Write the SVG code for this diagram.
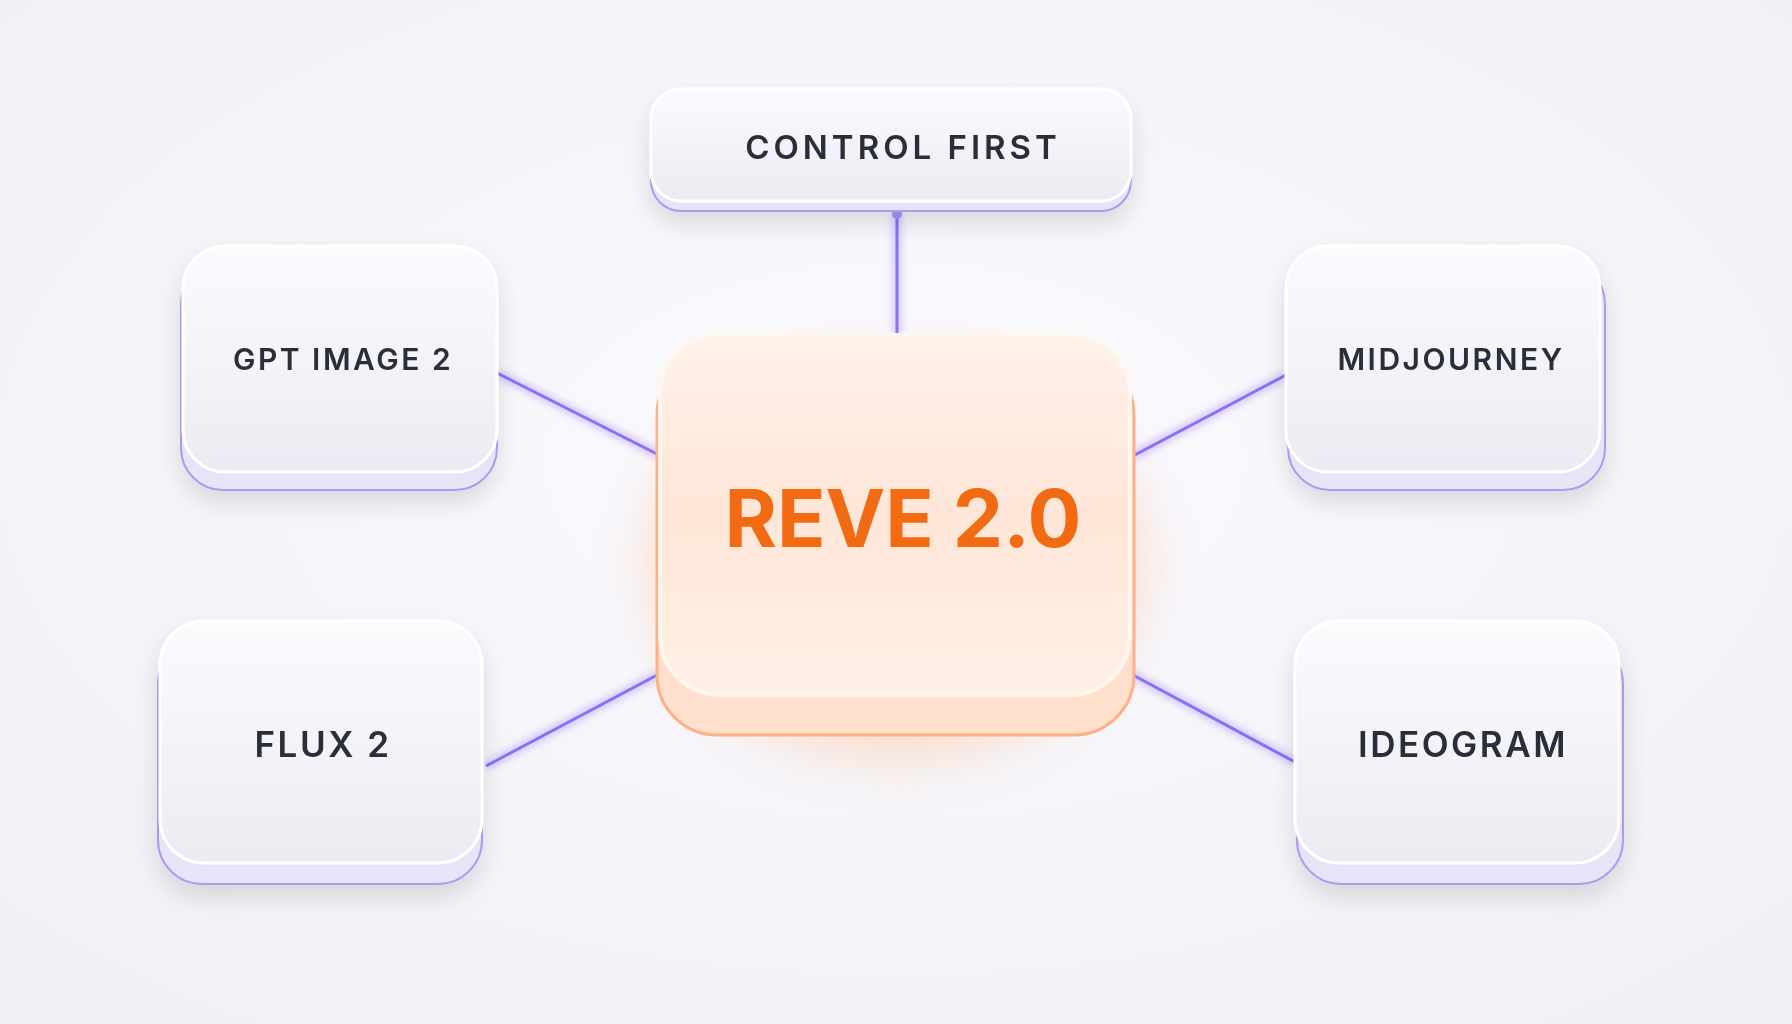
<svg xmlns="http://www.w3.org/2000/svg" width="1792" height="1024" viewBox="0 0 1792 1024">
<defs>
<radialGradient id="bg" cx="50%" cy="45%" r="75%"><stop offset="0" stop-color="#fbfaff"/><stop offset="1" stop-color="#efeff4"/></radialGradient>
<linearGradient id="card" x1="0" y1="0" x2="0" y2="1"><stop offset="0" stop-color="#fbfbfe"/><stop offset="1" stop-color="#ebebf3"/></linearGradient>
<linearGradient id="core" x1="0" y1="0" x2="0" y2="1"><stop offset="0" stop-color="#fff1ea"/><stop offset="0.5" stop-color="#ffe6d8"/><stop offset="1" stop-color="#fff0e6"/></linearGradient>
<filter id="sh" x="-30%" y="-30%" width="160%" height="170%"><feGaussianBlur in="SourceAlpha" stdDeviation="12"/><feOffset dy="12"/><feComponentTransfer><feFuncA type="linear" slope="0.12"/></feComponentTransfer><feMerge><feMergeNode/><feMergeNode in="SourceGraphic"/></feMerge></filter>
<filter id="glow" x="-50%" y="-50%" width="200%" height="200%"><feGaussianBlur stdDeviation="25"/></filter>
<filter id="lg" x="-20%" y="-20%" width="140%" height="140%"><feGaussianBlur stdDeviation="3"/></filter>
</defs>
<style>
.base{fill:#e6e4f7;stroke:#a99cf0;stroke-width:2}
.top{fill:url(#card);stroke:#ffffff;stroke-width:3}
.lbl{font-family:"Inter","Liberation Sans",sans-serif;font-weight:600;font-size:30px;fill:#2b2f38;letter-spacing:2.5px;text-anchor:middle;dominant-baseline:central}
.ln{stroke:#8b6ff5;stroke-width:3;fill:none}
.lnglow{stroke:#b9a6ff;stroke-width:10;fill:none;opacity:0.5}
</style>
<rect width="1792" height="1024" fill="url(#bg)"/>
<g id="connectors">
<g filter="url(#lg)">
<line class="lnglow" x1="897" y1="211" x2="897" y2="334"/>
<line class="lnglow" x1="497" y1="373" x2="659" y2="455"/>
<line class="lnglow" x1="1286" y1="375" x2="1131" y2="457"/>
<line class="lnglow" x1="486" y1="766" x2="659" y2="674"/>
<line class="lnglow" x1="1295" y1="762" x2="1131" y2="674"/>
</g>
<line class="ln" x1="897" y1="211" x2="897" y2="334"/>
<line class="ln" x1="497" y1="373" x2="659" y2="455"/>
<line class="ln" x1="1286" y1="375" x2="1131" y2="457"/>
<line class="ln" x1="486" y1="766" x2="659" y2="674"/>
<line class="ln" x1="1295" y1="762" x2="1131" y2="674"/>
<circle cx="897" cy="214" r="5" fill="#a894f7"/>
</g>
<g id="control-first" filter="url(#sh)">
<rect class="base" x="651" y="97" width="480" height="114" rx="30"/>
<rect class="top" x="651" y="89" width="480" height="112" rx="30"/>
<text class="lbl" x="903" y="147" style="font-size:33px;letter-spacing:4px">CONTROL FIRST</text>
</g>
<g id="gpt-image-2" filter="url(#sh)">
<rect class="base" x="181" y="262" width="316" height="228" rx="42"/>
<rect class="top" x="183" y="246" width="314" height="226" rx="42"/>
<text class="lbl" x="343" y="359">GPT IMAGE 2</text>
</g>
<g id="midjourney" filter="url(#sh)">
<rect class="base" x="1288" y="262" width="317" height="228" rx="42"/>
<rect class="top" x="1286" y="246" width="314" height="226" rx="42"/>
<text class="lbl" x="1451" y="359">MIDJOURNEY</text>
</g>
<g id="flux-2" filter="url(#sh)">
<rect class="base" x="158" y="640" width="324" height="244" rx="44"/>
<rect class="top" x="160" y="621" width="322" height="242" rx="44"/>
<text class="lbl" x="323" y="744" style="font-size:35px">FLUX 2</text>
</g>
<g id="ideogram" filter="url(#sh)">
<rect class="base" x="1297" y="640" width="326" height="244" rx="44"/>
<rect class="top" x="1295" y="621" width="324" height="242" rx="44"/>
<text class="lbl" x="1463" y="744" style="font-size:35px">IDEOGRAM</text>
</g>
<g id="reve-2">
<ellipse cx="897" cy="560" rx="250" ry="200" fill="#ffb27a" opacity="0.35" filter="url(#glow)"/>
<rect x="657" y="355" width="477" height="380" rx="60" fill="#ffe0cc" stroke="#ffb088" stroke-width="3"/>
<rect x="660" y="335" width="470" height="360" rx="60" fill="url(#core)" stroke="#fff6f0" stroke-width="4"/>
<text x="903" y="517" text-anchor="middle" dominant-baseline="central" font-family="Inter,'Liberation Sans',sans-serif" font-weight="700" font-size="80" fill="#f26a12">REVE 2.0</text>
</g>
</svg>
